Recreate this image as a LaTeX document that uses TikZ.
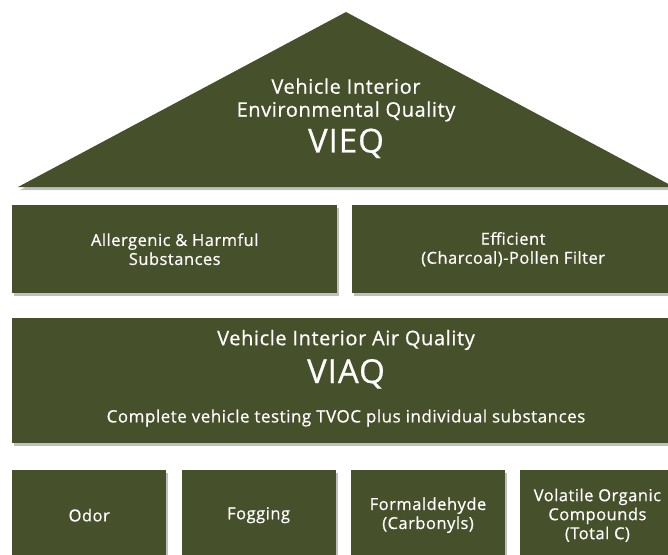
\documentclass[tikz,border=0pt]{standalone}
\usepackage{fontspec}
\setmainfont{Open Sans}[LetterSpace=3, FakeBold=0.6]
\usepackage{xcolor}
\usepackage{tikz}
\usetikzlibrary{positioning,shadows}

\definecolor{olive}{RGB}{70,80,43}

\begin{document}
\begin{tikzpicture}[
  x=1pt, y=-1pt,
  node distance=15pt and 15pt,
  shade/.style={drop shadow={shadow xshift=2pt, shadow yshift=-3pt, opacity=0.25, fill=black}},
  box/.style={rectangle, fill=olive, shade, text=white, align=center, inner sep=0pt, font=\fontsize{16.5}{19}\selectfont},
  wide/.style={box, minimum width=323pt, minimum height=88pt},
  small/.style={box, minimum width=154pt, minimum height=90pt, font=\fontsize{16.5}{19}\selectfont},
  title/.style={text=white, align=center, font=\fontsize{20}{23}\selectfont},
  big/.style={text=white, font=\fontsize{33}{33}\selectfont},
]
\useasboundingbox (0,0) rectangle (668,554);

%% --- Roof: VIEQ ---
\coordinate (apex) at (346,12);
\coordinate (bl)   at (18,187);
\coordinate (br)   at (674,187);
\fill[olive, shade] (bl) -- (apex) -- (br) -- cycle;
\node[title] (vieqt) at (346,100) {Vehicle Interior\\Environmental Quality};
\node[big, below=0pt of vieqt] (vieq) {VIEQ};

%% --- Second row ---
\node[wide, minimum width=325pt, anchor=north west] (harm) at (12,205) {Allergenic \& Harmful\\Substances};
\node[wide, right=14pt of harm] (filter) {Efficient\\(Charcoal)-Pollen Filter};

%% --- VIAQ block ---
\node[box, minimum width=662pt, minimum height=125pt, anchor=north west] (viaq) at (12,318) {};
\node[title] (viaqt) at (346,340) {Vehicle Interior Air Quality};
\node[big, below=2pt of viaqt] (viaqn) {VIAQ};
\node[text=white, font=\fontsize{17}{17}\selectfont] (viaqs) at (346,418) {Complete vehicle testing TVOC plus individual substances};

%% --- Bottom row ---
\node[small, anchor=north west] (odor) at (12,470) {Odor};
\node[small, right=of odor]  (fog)  {Fogging};
\node[small, right=of fog]   (form) {Formaldehyde\\(Carbonyls)};
\node[small, right=of form]  (voc)  {Volatile Organic\\Compounds\\(Total C)};

\end{tikzpicture}
\end{document}
